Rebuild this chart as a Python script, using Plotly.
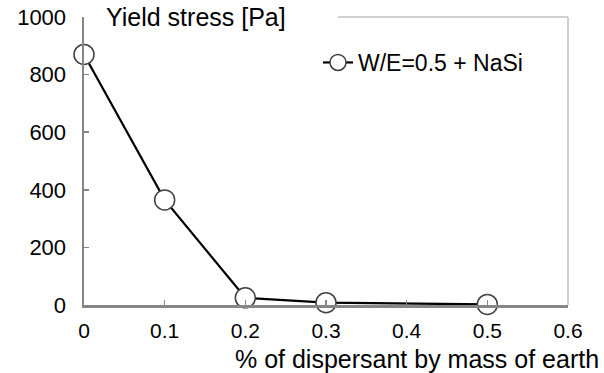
import plotly.graph_objects as go

x_vals = [0, 0.1, 0.2, 0.3, 0.5]
y_vals = [870, 365, 25, 8, 2]
series_name = "W/E=0.5 + NaSi"
x_ticks = [0, 0.1, 0.2, 0.3, 0.4, 0.5, 0.6]
x_tick_labels = ["0", "0.1", "0.2", "0.3", "0.4", "0.5", "0.6"]
y_ticks = [0, 200, 400, 600, 800, 1000]
y_tick_labels = ["0", "200", "400", "600", "800", "1000"]

FONT = "Liberation Sans, Arial, sans-serif"
AXIS_GRAY = "#868686"

fig = go.Figure()
fig.add_trace(go.Scatter(
    x=x_vals, y=y_vals, name=series_name, mode="lines+markers",
    line=dict(color="black", width=2.2),
    marker=dict(symbol="circle", size=20, color="white",
                line=dict(color="#404040", width=1.5)),
    cliponaxis=False,
))

fig.update_layout(
    template="none",
    width=604, height=373,
    margin=dict(l=84, r=36, t=17, b=68, autoexpand=False),
    paper_bgcolor="white", plot_bgcolor="white",
    font=dict(family=FONT, size=22, color="black"),
    showlegend=True,
    legend=dict(x=(318 - 84) / 484, y=(305 - 41) / 288, xanchor="left", yanchor="top",
                bgcolor="rgba(0,0,0,0)", borderwidth=0,
                font=dict(size=23, family=FONT)),
    xaxis=dict(range=[0, 0.6], tickvals=x_ticks, ticktext=x_tick_labels,
               automargin=False,
               showgrid=False, zeroline=False, showline=True, linecolor=AXIS_GRAY,
               linewidth=2.5, ticks="inside", ticklen=5, tickwidth=1.5,
               tickcolor=AXIS_GRAY, tickfont=dict(size=21), ticklabelstandoff=5,
               fixedrange=True),
    yaxis=dict(range=[0, 1000], tickvals=y_ticks, ticktext=y_tick_labels,
               automargin=False,
               showgrid=False, zeroline=False, showline=True, linecolor=AXIS_GRAY,
               linewidth=2.5, ticks="inside", ticklen=5, tickwidth=1.5,
               tickcolor=AXIS_GRAY, tickfont=dict(size=22), ticklabelstandoff=11,
               fixedrange=True),
)

# light gray plot-area frame (top, partially covered by title, and right)
fig.add_shape(type="line", xref="paper", yref="paper",
              x0=(338 - 84) / 484, x1=1, y0=1, y1=1,
              line=dict(color="#c0c0c0", width=1.5), layer="below")
fig.add_shape(type="line", xref="paper", yref="paper",
              x0=1, x1=1, y0=0, y1=1,
              line=dict(color="#c0c0c0", width=1.5), layer="below")

fig.add_annotation(text="Yield stress [Pa]", xref="paper", yref="paper",
                   x=(104 - 84) / 484, y=1, xanchor="left", yanchor="middle",
                   showarrow=False, font=dict(size=25, family=FONT))
fig.add_annotation(text="% of dispersant by mass of earth", xref="paper", yref="paper",
                   x=(601 - 84) / 484, y=(305 - 358.5) / 288, xanchor="right", yanchor="middle",
                   showarrow=False, font=dict(size=25, family=FONT))

fig.write_html("out.html",
               config={"displayModeBar": False, "staticPlot": True},
               post_script="document.body.style.margin='0';document.body.style.overflow='hidden';")
